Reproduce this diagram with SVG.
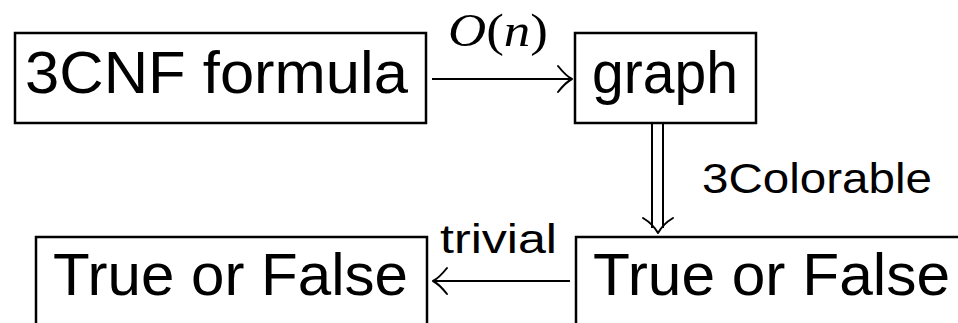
<svg xmlns="http://www.w3.org/2000/svg" width="958" height="323" viewBox="0 0 958 323">
<style>
.box{fill:none;stroke:#000;stroke-width:2.5}
.t{font-family:"Liberation Sans",Arial,sans-serif;fill:#000}
.big{font-size:60px}
.lbl{font-size:42px}
.ln{fill:none;stroke:#000;stroke-width:2;stroke-linecap:butt}
.hd{fill:none;stroke:#000;stroke-width:2;stroke-linecap:round;stroke-linejoin:round}
.m{font-family:"Liberation Serif","Times New Roman",serif;font-size:46px;fill:#000}
</style>
<rect width="958" height="323" fill="#fff"/>
<g id="node-3cnf">
<rect class="box" x="15" y="33" width="411" height="90"/>
<text class="t big" x="25" y="93" textLength="383" lengthAdjust="spacingAndGlyphs">3CNF formula</text>
</g>
<g id="node-graph">
<rect class="box" x="575" y="33" width="181" height="90"/>
<text class="t big" x="592" y="93" textLength="146" lengthAdjust="spacingAndGlyphs">graph</text>
</g>
<g id="node-tf-left">
<rect class="box" x="36" y="237" width="391" height="200"/>
<text class="t big" x="53" y="295" textLength="355" lengthAdjust="spacingAndGlyphs">True or False</text>
</g>
<g id="node-tf-right">
<rect class="box" x="576" y="237" width="500" height="200"/>
<text class="t big" x="593" y="295" textLength="357" lengthAdjust="spacingAndGlyphs">True or False</text>
</g>
<g id="connectors">
<line class="ln" x1="432" y1="79" x2="571" y2="79"/>
<path class="hd" d="M558,66 Q566,76 572,79 Q566,82 558,92"/>
<text class="m" x="448" y="46" textLength="100" lengthAdjust="spacingAndGlyphs"><tspan font-style="italic">O</tspan>(<tspan font-style="italic">n</tspan>)</text>
<line class="ln" x1="652" y1="124" x2="652" y2="228"/>
<line class="ln" x1="663" y1="124" x2="663" y2="228"/>
<path class="hd" d="M643,218 Q653,224 658,233 Q663,224 673,218"/>
<text class="t lbl" x="702" y="193" textLength="230" lengthAdjust="spacingAndGlyphs">3Colorable</text>
<line class="ln" x1="434" y1="281" x2="570" y2="281"/>
<path class="hd" d="M447,268 Q439,278 433,281 Q439,284 447,294"/>
<text class="t" font-size="40" x="440" y="253" textLength="117" lengthAdjust="spacingAndGlyphs">trivial</text>
</g>
</svg>
